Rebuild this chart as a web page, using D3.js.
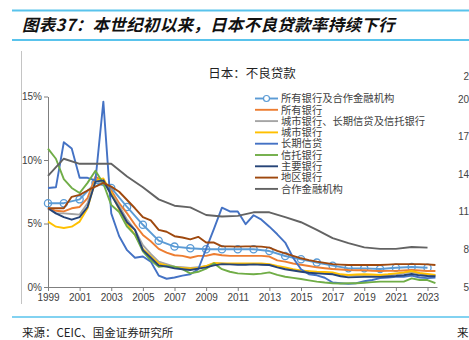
<!DOCTYPE html>
<html><head><meta charset="utf-8">
<script src="https://cdn.jsdelivr.net/npm/d3@7"></script>
<style>
html,body{margin:0;padding:0;background:#fff;}
svg{display:block;}
</style></head>
<body>
<svg id="c" width="469" height="340"></svg>
<script>
// ---------- data ----------
const headerTitle = "图表37：本世纪初以来，日本不良贷款率持续下行";
const chartTitle = "日本：不良贷款";
const sourceText = "来源：CEIC、国金证券研究所";
const yTicks = [0, 5, 10, 15];
const yTickLabels = ["0%", "5%", "10%", "15%"];
const xTicks = [1999, 2001, 2003, 2005, 2007, 2009, 2011, 2013, 2015, 2017, 2019, 2021, 2023];
const xTickLabels = ["1999","2001","2003","2005","2007","2009","2011","2013","2015","2017","2019","2021","2023"];

// annual periods (fiscal year ends) and semi-annual periods
const periodsAnnual = [1999,2000,2001,2002,2003,2004,2005,2006,2007,2008,2009,2010,2011,2012,2013,2014,2015,2016,2017,2018,2019,2020,2021,2022,2023];
const periodsHalf = [1999,1999.5,2000,2000.5,2001,2001.5,2002,2002.5,2003,2003.5,2004,2004.5,2005,2005.5,2006,2006.5,2007,2007.5,2008,2008.5,2009,2009.5,2010,2010.5,2011,2011.5,2012,2012.5,2013,2013.5,2014,2014.5,2015,2015.5,2016,2016.5,2017,2017.5,2018,2018.5,2019,2019.5,2020,2020.5,2021,2021.5,2022,2022.5,2023,2023.5];

const seriesNames = ["所有银行及合作金融机构","所有银行","城市银行、长期信贷及信托银行","城市银行","长期信贷","信托银行","主要银行","地区银行","合作金融机构"];
const seriesColors = ["#5B9BD5","#ED7D31","#A5A5A5","#FFC000","#4472C4","#70AD47","#264478","#9E480E","#636363"];

// 所有银行及合作金融机构 (annual)
const allBanksCoop = [6.6,6.6,6.9,8.2,7.8,6.3,4.9,3.65,3.18,3.05,2.97,2.97,2.97,2.97,2.83,2.44,2.18,1.92,1.68,1.47,1.47,1.42,1.52,1.57,1.52];
// 所有银行 (semi-annual)
const allBanks = [6.2,6.0,5.95,6.2,6.3,7.0,8.7,8.3,7.6,6.6,5.8,4.9,4.1,3.6,3.0,2.7,2.5,2.45,2.3,2.45,2.45,2.6,2.5,2.45,2.45,2.45,2.45,2.45,2.4,2.1,2.0,1.85,1.75,1.65,1.55,1.48,1.42,1.38,1.34,1.32,1.32,1.28,1.26,1.27,1.27,1.3,1.34,1.3,1.26,1.26];
// 城市银行、长期信贷及信托银行
const cityLtcTrust = [6.2,5.8,5.8,5.75,5.7,6.6,8.4,8.2,7.4,6.4,5.3,4.5,3.3,2.6,2.0,1.8,1.6,1.55,1.5,1.55,1.65,1.85,1.85,1.8,1.8,1.8,1.8,1.8,1.75,1.6,1.45,1.35,1.25,1.2,1.15,1.1,1.05,0.95,0.9,0.9,0.92,0.92,0.95,0.95,1.0,1.1,1.2,1.05,0.95,0.9];
// 城市银行
const cityBanks = [5.15,4.75,4.65,4.75,5.15,6.2,8.4,8.55,7.4,6.1,5.0,4.1,3.0,2.4,1.85,1.7,1.55,1.5,1.47,1.5,1.65,1.9,1.85,1.85,1.85,1.85,1.85,1.85,1.8,1.65,1.55,1.4,1.3,1.25,1.2,1.18,1.15,1.0,0.95,0.98,1.0,0.98,0.95,1.0,1.07,1.15,1.26,1.1,1.02,0.94];
// 长期信贷
const longTermCredit = [7.8,7.85,11.4,10.9,8.6,8.6,8.4,14.6,5.8,4.0,2.9,2.3,2.4,2.0,0.9,0.65,0.75,0.9,1.0,1.4,3.0,4.6,6.25,5.95,5.95,4.95,5.65,5.3,4.75,4.15,3.5,2.3,1.4,1.0,0.92,0.73,0.35,0.3,0.25,0.3,0.45,0.55,0.7,0.75,0.8,0.8,0.9,0.75,0.7,0.75];
// 信托银行
const trustBanks = [10.9,10.1,8.5,7.8,7.4,8.2,9.15,8.15,6.45,5.9,4.75,4.1,2.8,2.1,1.6,1.65,1.6,1.4,1.07,1.2,1.45,1.86,1.4,1.2,1.07,1.03,1.0,1.05,1.15,0.95,0.81,0.72,0.63,0.52,0.42,0.35,0.3,0.28,0.29,0.3,0.34,0.38,0.42,0.42,0.42,0.42,0.68,0.55,0.55,0.3];
// 主要银行
const majorBanks = [6.2,5.8,5.5,5.3,5.5,6.3,8.3,8.4,7.25,6.2,5.1,4.5,2.9,2.3,1.7,1.6,1.47,1.4,1.34,1.45,1.55,1.7,1.8,1.78,1.75,1.75,1.78,1.75,1.73,1.55,1.4,1.3,1.2,1.12,1.07,1.03,1.0,0.85,0.76,0.78,0.8,0.8,0.8,0.83,0.87,0.93,1.02,0.92,0.87,0.85];
// 地区银行
const regionalBanks = [6.2,6.2,6.2,7.1,7.25,7.6,7.9,8.2,7.9,7.5,6.85,6.2,5.5,5.25,4.5,4.35,4.0,3.9,3.75,3.95,3.5,3.5,3.2,3.2,3.18,3.2,3.2,3.18,3.1,2.85,2.65,2.45,2.26,2.12,2.0,1.9,1.8,1.76,1.73,1.73,1.73,1.73,1.73,1.76,1.8,1.8,1.8,1.8,1.78,1.73];
// 合作金融机构 (annual)
const cooperatives = [8.75,10.1,9.7,9.7,9.7,8.7,7.85,6.9,6.4,6.27,5.67,5.55,5.6,5.88,5.88,5.5,5.1,4.5,3.85,3.45,3.12,3.0,3.0,3.15,3.1];

// neighbouring (cut-off) chart's axis labels at right edge
const rightEdgeLabels = ["2","20","17","14","11","8","5"];

// ---------- build ----------
const seriesValues = [allBanksCoop, allBanks, cityLtcTrust, cityBanks, longTermCredit, trustBanks, majorBanks, regionalBanks, cooperatives];
const seriesPeriods = [periodsAnnual, periodsHalf, periodsHalf, periodsHalf, periodsHalf, periodsHalf, periodsHalf, periodsHalf, periodsAnnual];
const series = seriesNames.map((n, i) => ({
  name: n, color: seriesColors[i], marker: i === 0,
  pts: seriesValues[i].map((v, j) => ({x: seriesPeriods[i][j], y: v}))
}));

const svg = d3.select("#c");
const cjk = "'Noto Sans CJK SC','Noto Sans',sans-serif";
const lat = "'Liberation Sans',Arial,sans-serif";
const latCjk = "'Liberation Sans','Noto Sans CJK SC',sans-serif";
const cyan = "#59C3EC";

// header frame
svg.append("line").attr("x1", 12).attr("x2", 469).attr("y1", 10.5).attr("y2", 10.5).attr("stroke", cyan).attr("stroke-width", 2);
svg.append("line").attr("x1", 12).attr("x2", 469).attr("y1", 40).attr("y2", 40).attr("stroke", cyan).attr("stroke-width", 2);
svg.append("line").attr("x1", 12).attr("x2", 469).attr("y1", 317).attr("y2", 317).attr("stroke", cyan).attr("stroke-width", 1.5);
svg.append("text").attr("x", 22).attr("y", 31).text(headerTitle)
  .attr("font-family", cjk).attr("font-size", 16.5).attr("font-style", "italic").attr("font-weight", "bold").attr("fill", "#111")
  .attr("letter-spacing", 0.3);

// left grey rule
svg.append("line").attr("x1", 21.5).attr("x2", 21.5).attr("y1", 51).attr("y2", 304).attr("stroke", "#c4c4c4").attr("stroke-width", 1);

// source
svg.append("text").attr("x", 22).attr("y", 337).text(sourceText)
  .attr("font-family", cjk).attr("font-size", 11.5).attr("fill", "#222");
svg.append("text").attr("x", 457).attr("y", 337).text("来")
  .attr("font-family", cjk).attr("font-size", 11.5).attr("fill", "#222");

// right-edge labels from neighbouring chart
svg.append("g").selectAll("text").data(rightEdgeLabels).join("text")
  .attr("x", 469).attr("y", (d, i) => i === 0 ? 76 : 99 + (i - 1) * 37.6)
  .attr("dy", "0.35em").attr("text-anchor", "end").text(d => d)
  .attr("font-family", lat).attr("font-size", 10).attr("fill", "#444");

// chart title
svg.append("text").attr("x", 252).attr("y", 78).attr("text-anchor", "middle").text(chartTitle)
  .attr("font-family", cjk).attr("font-size", 12.5).attr("fill", "#222");

// scales
const x = d3.scaleLinear().domain([1999, 2023.6]).range([48, 437]);
const y = d3.scaleLinear().domain([0, 15]).range([287, 96.5]);

// axes
const yAxis = svg.append("g").attr("transform", `translate(${x(1999)},0)`)
  .call(d3.axisLeft(y).tickValues(yTicks).tickFormat((d, i) => yTickLabels[i]).tickSize(4).tickSizeOuter(0));
const xAxis = svg.append("g").attr("transform", `translate(0,${y(0)})`)
  .call(d3.axisBottom(x).tickValues(xTicks).tickFormat((d, i) => xTickLabels[i]).tickSize(4).tickSizeOuter(0));
[yAxis, xAxis].forEach(g => {
  g.select(".domain").attr("stroke", "#7f7f7f");
  g.selectAll(".tick line").attr("stroke", "#7f7f7f");
  g.selectAll("text").attr("font-family", lat).attr("font-size", 10).attr("fill", "#404040");
});
yAxis.selectAll("text").attr("x", -6);
xAxis.selectAll("text").attr("y", 7);

// lines
const line = d3.line().x(d => x(d.x)).y(d => y(d.y));
const gLines = svg.append("g");
series.forEach(s => {
  gLines.append("path").datum(s.pts).attr("d", line)
    .attr("fill", "none").attr("stroke", s.color).attr("stroke-width", 1.9)
    .attr("stroke-linejoin", "round");
  if (s.marker) {
    gLines.append("g").selectAll("circle").data(s.pts).join("circle")
      .attr("cx", d => x(d.x)).attr("cy", d => y(d.y)).attr("r", 3.6)
      .attr("fill", "none").attr("stroke", s.color).attr("stroke-width", 1.3);
  }
});

// legend
const lg = svg.append("g");
series.forEach((s, i) => {
  const ly = 98.5 + i * 11.3;
  lg.append("line").attr("x1", 255).attr("x2", 278).attr("y1", ly).attr("y2", ly)
    .attr("stroke", s.color).attr("stroke-width", 1.9);
  if (s.marker) lg.append("circle").attr("cx", 266.5).attr("cy", ly).attr("r", 3)
    .attr("fill", "#fff").attr("stroke", s.color).attr("stroke-width", 1.2);
  lg.append("text").attr("x", 281).attr("y", ly).attr("dy", "0.36em").text(s.name)
    .attr("font-family", latCjk).attr("font-size", 10.3).attr("fill", "#404040");
});
</script>
</body></html>
